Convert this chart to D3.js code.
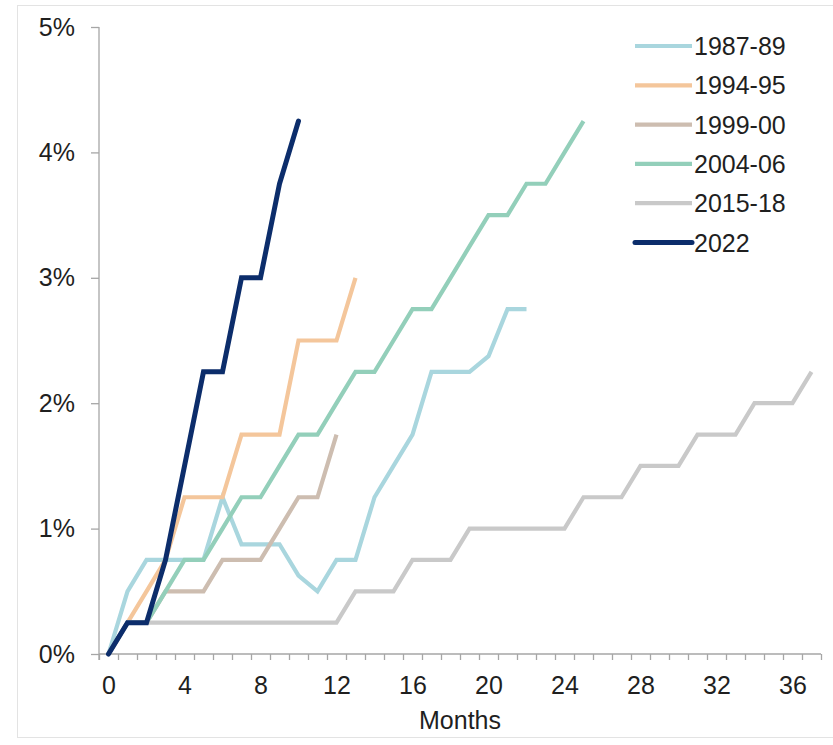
<!DOCTYPE html>
<html><head><meta charset="utf-8">
<script src="https://cdn.jsdelivr.net/npm/d3@7"></script>
<style>
body{margin:0;background:#fff;}
text{font-family:"Liberation Sans",Arial,sans-serif;fill:#1f1f1f;}
</style></head>
<body><svg id="c" width="833" height="745"></svg>
<script>
const months = d3.range(0, 38);
const seriesNames = ["1987-89","1994-95","1999-00","2004-06","2015-18","2022"];
const seriesColors = ["#a9d6de","#f4c69b","#cdbdb0","#93cfba","#c9c9c9","#0c2d6b"];
const v1987 = [0,0.5,0.75,0.75,0.75,0.75,1.25,0.875,0.875,0.875,0.625,0.5,0.75,0.75,1.25,1.5,1.75,2.25,2.25,2.25,2.375,2.75,2.75];
const v1994 = [0,0.25,0.5,0.75,1.25,1.25,1.25,1.75,1.75,1.75,2.5,2.5,2.5,3.0];
const v1999 = [0,0.25,0.25,0.5,0.5,0.5,0.75,0.75,0.75,1.0,1.25,1.25,1.75];
const v2004 = [0,0.25,0.25,0.5,0.75,0.75,1.0,1.25,1.25,1.5,1.75,1.75,2.0,2.25,2.25,2.5,2.75,2.75,3.0,3.25,3.5,3.5,3.75,3.75,4.0,4.25];
const v2015 = [0,0.25,0.25,0.25,0.25,0.25,0.25,0.25,0.25,0.25,0.25,0.25,0.25,0.5,0.5,0.5,0.75,0.75,0.75,1.0,1.0,1.0,1.0,1.0,1.0,1.25,1.25,1.25,1.5,1.5,1.5,1.75,1.75,1.75,2.0,2.0,2.0,2.25];
const v2022 = [0,0.25,0.25,0.75,1.5,2.25,2.25,3.0,3.0,3.75,4.25];
const seriesValues = [v1987,v1994,v1999,v2004,v2015,v2022];
const yTicks = [0,1,2,3,4,5];
const xLabelTicks = [0,4,8,12,16,20,24,28,32,36];

const svg = d3.select("#c");
// outer frame
svg.append("rect").attr("x",17.5).attr("y",5.5).attr("width",830).attr("height",732)
  .attr("fill","none").attr("stroke","#e3e3e3").attr("stroke-width",1);

const x = d3.scaleLinear().domain([-0.5,37.5]).range([99,821]);
const y = d3.scaleLinear().domain([0,5]).range([654,27]);

// y axis
const yAxis = d3.axisLeft(y).tickValues(yTicks).tickFormat(d=>d+"%").tickSize(8).tickPadding(16);
const gy = svg.append("g").attr("transform","translate(99,0)").call(yAxis);
gy.select(".domain").attr("stroke","#a6a6a6").attr("stroke-width",1.3).attr("d","M0,"+y(5)+"V"+(y(0)+6));
gy.selectAll(".tick line").attr("stroke","#a6a6a6").attr("stroke-width",1.3);
gy.selectAll("text").attr("font-size",25).attr("fill","#1f1f1f");

// x axis minor ticks
const xAxis = d3.axisBottom(x).tickValues(d3.range(-0.5,38,1)).tickFormat("").tickSize(6);
const gx = svg.append("g").attr("transform","translate(0,"+y(0)+")").call(xAxis);
gx.select(".domain").attr("stroke","#a6a6a6").attr("stroke-width",1.3).attr("d","M"+x(-0.5)+",0H"+x(37.5));
gx.selectAll(".tick line").attr("stroke","#a6a6a6").attr("stroke-width",1.3);

// x labels
const xl = d3.axisBottom(x).tickValues(xLabelTicks).tickSize(0).tickPadding(22);
const gxl = svg.append("g").attr("transform","translate(0,"+y(0)+")").call(xl);
gxl.select(".domain").remove();
gxl.selectAll("text").attr("font-size",25).attr("fill","#1f1f1f");

svg.append("text").attr("x",(x(-0.5)+x(37.5))/2).attr("y",729).attr("text-anchor","middle")
  .attr("font-size",25).text("Months");

// lines
const line = d3.line().x((d,i)=>x(i)).y(d=>y(d));
seriesValues.forEach((vals,k)=>{
  svg.append("path").datum(vals).attr("d",line).attr("fill","none")
    .attr("stroke",seriesColors[k]).attr("stroke-width",k===5?5:4.2)
    .attr("stroke-linejoin","miter").attr("stroke-linecap", k===5?"round":"butt");
});

// legend
const lg = svg.append("g");
seriesNames.forEach((n,k)=>{
  const yy = 46 + k*39.3;
  lg.append("line").attr("x1",635).attr("x2",692).attr("y1",yy).attr("y2",yy)
    .attr("stroke",seriesColors[k]).attr("stroke-width",k===5?5:4.2).attr("stroke-linecap",k===5?"round":"butt");
  lg.append("text").attr("x",694).attr("y",yy).attr("dy","0.36em").attr("font-size",25).text(n);
});
</script></body></html>
